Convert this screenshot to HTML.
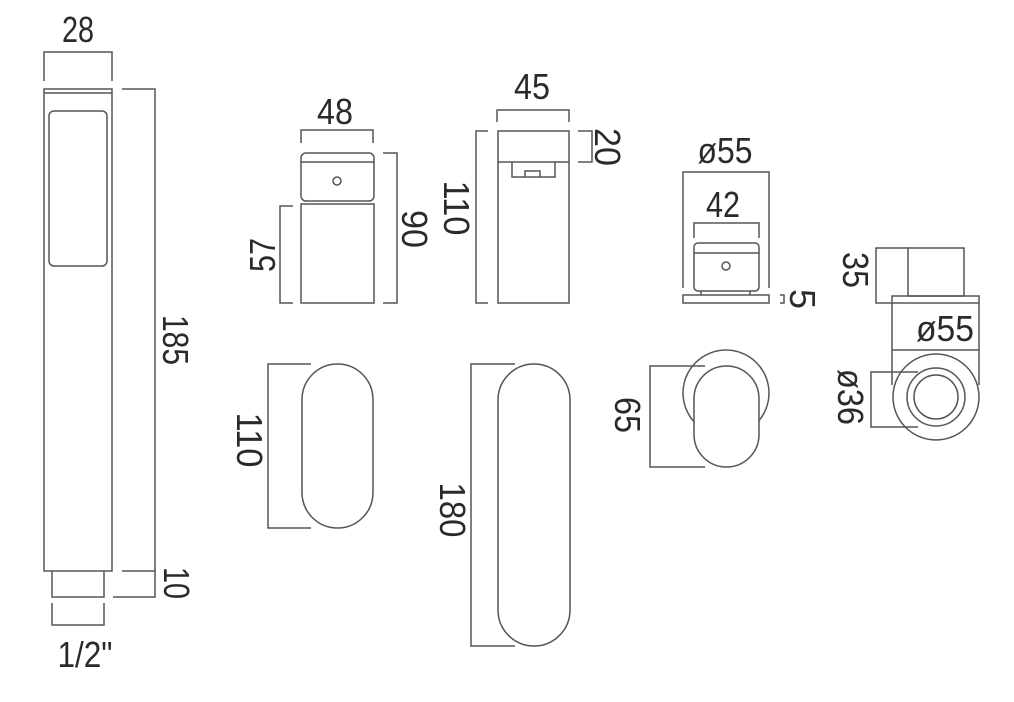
<!DOCTYPE html>
<html><head><style>
html,body{margin:0;padding:0;background:#fff;}
svg text{font-family:"Liberation Sans",sans-serif;font-size:36px;fill:#2a2a2a;text-anchor:middle;}
</style></head><body>
<svg width="1014" height="697" viewBox="0 0 1014 697" xmlns="http://www.w3.org/2000/svg">
<g fill="none" stroke="#555" stroke-width="1.5">
<path d="M44 81V52H112V81"/>
<rect x="44" y="89" width="68" height="482"/>
<line x1="44" y1="93" x2="112" y2="93"/>
<rect x="49" y="111" width="58" height="155" rx="5"/>
<path d="M122 89H155V571H122"/>
<path d="M113 597H155V571"/>
<path d="M52 571V597H104V571"/>
<path d="M52 603V625H104V603"/>
<path d="M301 143V130H373V143"/>
<rect x="301" y="153" width="73" height="48" rx="5"/>
<line x1="301" y1="162" x2="374" y2="162"/>
<rect x="301" y="204" width="73" height="99"/>
<circle cx="337" cy="181" r="4"/>
<path d="M383 153H397V303H383"/>
<path d="M293 206H280V303H293"/>
<path d="M497 122V110H569V122"/>
<rect x="498" y="131" width="71" height="172"/>
<line x1="498" y1="162" x2="569" y2="162"/>
<path d="M512 162V177H555V162"/>
<path d="M525 177V171H540V177"/>
<path d="M578 131H592V162H578"/>
<path d="M488 131H476V303H488"/>
<path d="M683 288V172H769V288"/>
<path d="M694 238V223H759V238"/>
<rect x="694" y="243" width="65" height="48" rx="4"/>
<line x1="694" y1="253" x2="759" y2="253"/>
<circle cx="726" cy="266" r="4"/>
<rect x="683" y="295" width="86" height="8"/>
<path d="M701 291V295M750 291V295"/>
<path d="M780 295H784V303H780"/>
<path d="M908 248H876V303H892"/>
<rect x="908" y="248" width="56" height="48"/>
<rect x="892" y="296" width="87" height="7"/>
<path d="M892 303V385M979 303V385M892 350H979"/>
<circle cx="936" cy="397" r="43"/>
<circle cx="936" cy="397" r="29"/>
<circle cx="936" cy="397" r="22"/>
<path d="M918 372H871V427H918"/>
<rect x="302" y="364" width="71" height="164" rx="35.5"/>
<path d="M311 364H268V528H311"/>
<rect x="498" y="364" width="72" height="282" rx="36"/>
<path d="M515 364H471V646H515"/>
<circle cx="726" cy="393" r="43"/>
<rect x="694" y="366" width="65" height="101" rx="32.5" fill="#fff"/>
<path d="M705 366H650V467H705"/>
</g>
<text x="78" y="42" textLength="32" lengthAdjust="spacingAndGlyphs">28</text>
<text x="85" y="667" textLength="55" lengthAdjust="spacingAndGlyphs">1/2"</text>
<text transform="translate(163,340) rotate(90)" textLength="50" lengthAdjust="spacingAndGlyphs">185</text>
<text transform="translate(164,583) rotate(90)" textLength="32" lengthAdjust="spacingAndGlyphs">10</text>
<text x="335" y="124" textLength="36" lengthAdjust="spacingAndGlyphs">48</text>
<text transform="translate(402,229) rotate(90)" textLength="38" lengthAdjust="spacingAndGlyphs">90</text>
<text transform="translate(275,255) rotate(-90)" textLength="34" lengthAdjust="spacingAndGlyphs">57</text>
<text x="532" y="99" textLength="36" lengthAdjust="spacingAndGlyphs">45</text>
<text transform="translate(595,147) rotate(90)" textLength="38" lengthAdjust="spacingAndGlyphs">20</text>
<text transform="translate(444,208) rotate(90)" textLength="55" lengthAdjust="spacingAndGlyphs">110</text>
<text x="725" y="163" textLength="55" lengthAdjust="spacingAndGlyphs">ø55</text>
<text x="723" y="217" textLength="34" lengthAdjust="spacingAndGlyphs">42</text>
<text transform="translate(790,299) rotate(90)">5</text>
<text transform="translate(843,270) rotate(90)" textLength="36" lengthAdjust="spacingAndGlyphs">35</text>
<text x="945" y="341" textLength="58" lengthAdjust="spacingAndGlyphs">ø55</text>
<text transform="translate(838,397) rotate(90)" textLength="56" lengthAdjust="spacingAndGlyphs">ø36</text>
<text transform="translate(237,440) rotate(90)" textLength="55" lengthAdjust="spacingAndGlyphs">110</text>
<text transform="translate(440,510) rotate(90)" textLength="55" lengthAdjust="spacingAndGlyphs">180</text>
<text transform="translate(615,415) rotate(90)" textLength="36" lengthAdjust="spacingAndGlyphs">65</text>
</svg>
</body></html>
